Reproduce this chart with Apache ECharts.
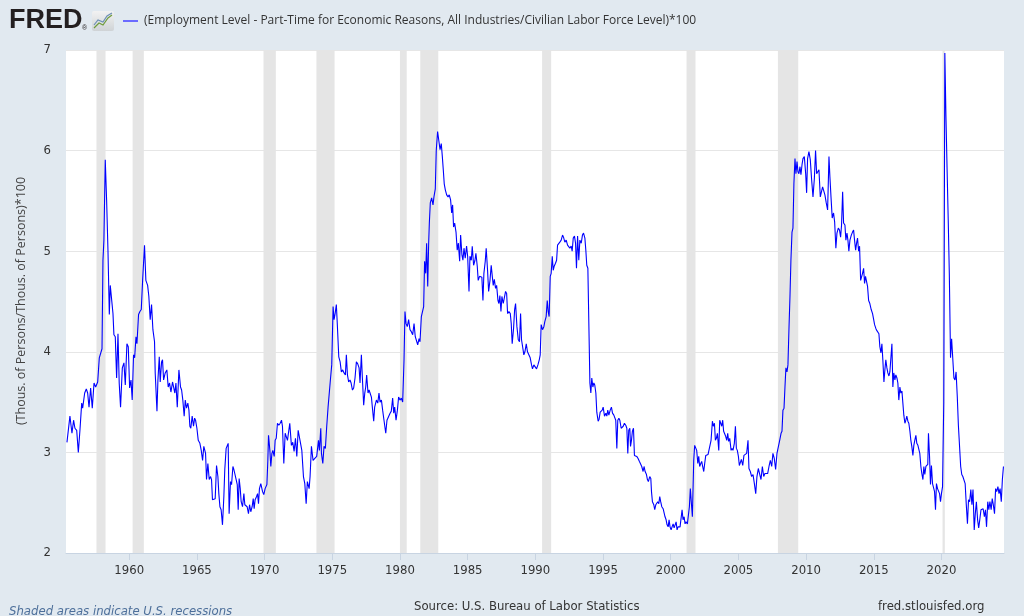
<!DOCTYPE html>
<html>
<head>
<meta charset="utf-8">
<script src="https://cdn.jsdelivr.net/npm/echarts@6/dist/echarts.min.js"></script>
<style>
html,body{margin:0;padding:0;background:#e1e9f0;}
#chart{width:1024px;height:616px;}
</style>
</head>
<body>
<div id="chart"></div>
<script>
// ---- data: [decimal year, percent] ----
const d1955 = [[1955.40,3.10],[1955.62,3.36],[1955.77,3.19],[1955.89,3.32],[1955.99,3.24],[1956.12,3.22],[1956.24,3.00],[1956.36,3.22],[1956.49,3.49],[1956.56,3.44],[1956.71,3.59],[1956.83,3.63],[1956.93,3.59],[1957.03,3.45],[1957.15,3.64],[1957.27,3.44],[1957.40,3.69],[1957.52,3.65],[1957.67,3.70],[1957.79,3.94],[1957.91,3.95],[1957.99,4.03],[1958.06,4.91],[1958.13,5.11],[1958.23,5.91],[1958.33,5.51],[1958.43,5.01],[1958.53,4.37],[1958.60,4.66],[1958.70,4.66],[1958.80,4.38],[1958.87,4.17],[1958.97,4.15],[1959.07,3.74],[1959.17,4.18],[1959.26,3.69],[1959.36,3.45],[1959.49,3.84],[1959.61,3.89],[1959.71,3.67],[1959.83,4.08],[1959.93,4.05],[1960.03,3.64],[1960.13,3.72],[1960.22,3.52],[1960.32,3.97],[1960.40,3.94],[1960.50,4.15],[1960.57,4.08],[1960.69,4.37],[1960.79,4.40],[1960.89,4.42],[1960.99,4.71],[1961.13,5.06],[1961.23,4.71],[1961.36,4.66],[1961.45,4.55],[1961.55,4.32],[1961.65,4.47],[1961.75,4.22],[1961.87,4.10],[1961.92,3.79],[1962.05,3.41],[1962.12,3.72],[1962.22,3.95],[1962.29,3.70],[1962.39,3.90],[1962.46,3.92],[1962.54,3.72],[1962.66,3.79],[1962.78,3.82],[1962.88,3.65],[1962.98,3.69],[1963.08,3.60],[1963.20,3.70],[1963.30,3.69],[1963.37,3.59],[1963.45,3.69],[1963.55,3.45],[1963.67,3.82],[1963.79,3.65],[1963.87,3.62],[1963.96,3.52],[1964.06,3.36],[1964.14,3.52],[1964.23,3.44],[1964.33,3.49],[1964.41,3.42],[1964.48,3.26],[1964.55,3.24],[1964.65,3.36],[1964.75,3.26],[1964.83,3.34],[1964.90,3.32],[1965.00,3.24],[1965.10,3.12],[1965.22,3.09],[1965.32,3.02],[1965.42,2.92],[1965.51,3.06],[1965.64,2.99],[1965.71,2.73],[1965.81,2.89],[1965.91,2.73],[1966.01,2.76],[1966.08,2.73],[1966.15,2.53],[1966.25,2.53],[1966.35,2.54],[1966.45,2.87],[1966.55,2.76],[1966.62,2.59],[1966.70,2.46],[1966.79,2.43],[1966.89,2.28],[1966.99,2.56],[1967.06,2.83],[1967.16,3.04],[1967.24,3.03],[1967.31,3.09],[1967.38,2.39],[1967.48,2.71],[1967.56,2.68],[1967.66,2.86],[1967.73,2.83],[1967.80,2.84],[1967.90,2.73],[1967.98,2.68],[1968.05,2.43],[1968.12,2.74],[1968.20,2.64],[1968.27,2.51],[1968.37,2.46],[1968.47,2.59],[1968.54,2.48],[1968.64,2.49],[1968.71,2.46],[1968.81,2.39],[1968.89,2.48],[1968.98,2.41],[1969.08,2.46],[1969.16,2.54],[1969.23,2.44],[1969.30,2.53],[1969.40,2.56],[1969.48,2.59],[1969.55,2.49],[1969.62,2.64],[1969.72,2.69],[1969.85,2.61],[1969.94,2.58],[1970.04,2.64],[1970.17,2.68],[1970.24,2.92],[1970.29,3.17],[1970.39,3.02],[1970.46,2.86],[1970.54,2.99],[1970.61,3.02],[1970.71,2.96],[1970.78,3.12],[1970.86,3.14],[1970.95,3.29],[1971.05,3.27],[1971.15,3.29],[1971.25,3.32],[1971.32,3.26],[1971.42,2.89],[1971.52,3.19]];
const d1971 = [[1971.69,3.12],[1971.86,3.29],[1971.98,3.07],[1972.08,3.10],[1972.18,3.01],[1972.28,3.14],[1972.38,2.96],[1972.48,3.22],[1972.62,3.23],[1972.75,3.02],[1972.87,2.76],[1972.97,2.69],[1973.07,2.49],[1973.16,2.71],[1973.29,2.64],[1973.36,2.76],[1973.46,3.06],[1973.58,2.92],[1973.71,2.94],[1973.85,2.96],[1973.98,3.12],[1974.05,3.02],[1974.15,3.24],[1974.20,2.99],[1974.30,2.89],[1974.39,3.06],[1974.49,3.04],[1974.59,3.26],[1974.69,3.45],[1974.79,3.45],[1974.86,3.72],[1974.96,3.87],[1975.06,4.45],[1975.13,4.32],[1975.21,4.38],[1975.30,4.47],[1975.38,4.25],[1975.48,3.95],[1975.58,3.90],[1975.67,3.80],[1975.77,3.82],[1975.87,3.79],[1975.97,3.77],[1976.04,3.97],[1976.12,3.77],[1976.21,3.70],[1976.31,3.72],[1976.39,3.69],[1976.49,3.62],[1976.58,3.64],[1976.68,3.74],[1976.78,3.90],[1976.88,3.88],[1976.98,3.84],[1977.05,3.69],[1977.15,3.97],[1977.22,3.75],[1977.32,3.47],[1977.40,3.59],[1977.47,3.65],[1977.54,3.77],[1977.64,3.59],[1977.72,3.62],[1977.79,3.59],[1977.89,3.55],[1977.96,3.45],[1978.06,3.31],[1978.13,3.45],[1978.26,3.52],[1978.36,3.49],[1978.45,3.59],[1978.53,3.50],[1978.63,3.52],[1978.72,3.42],[1978.82,3.32],[1978.95,3.19],[1979.04,3.32],[1979.17,3.36],[1979.27,3.39],[1979.36,3.41],[1979.46,3.54],[1979.54,3.39],[1979.61,3.45],[1979.71,3.32],[1979.81,3.42],[1979.90,3.55],[1980.00,3.52],[1980.10,3.54],[1980.20,3.50],[1980.30,3.92],[1980.37,4.40],[1980.45,4.28],[1980.54,4.25],[1980.64,4.32],[1980.74,4.22],[1980.84,4.20],[1980.94,4.17],[1981.04,4.28],[1981.13,4.15],[1981.23,4.15],[1981.31,4.07],[1981.41,4.13],[1981.48,4.10],[1981.58,4.35],[1981.68,4.35],[1981.75,4.45],[1981.82,4.90],[1981.90,4.78],[1981.97,5.08],[1982.05,4.65],[1982.12,5.08],[1982.17,5.28],[1982.24,5.48],[1982.34,5.53],[1982.44,5.46],[1982.51,5.54],[1982.61,5.62],[1982.68,6.00],[1982.78,6.19],[1982.88,6.09],[1982.96,6.01],[1983.05,6.07],[1983.13,5.94],[1983.20,5.81],[1983.27,5.67],[1983.35,5.61],[1983.45,5.56],[1983.55,5.54],[1983.64,5.56],[1983.74,5.51],[1983.82,5.38],[1983.89,5.46],[1983.96,5.24],[1984.04,5.28],[1984.14,5.19],[1984.23,5.01],[1984.31,5.08],[1984.41,4.90],[1984.48,5.16],[1984.58,4.96],[1984.65,4.91],[1984.73,5.03],[1984.82,4.93],[1984.92,5.05],[1985.00,4.95],[1985.10,4.60],[1985.17,4.95],[1985.27,4.91],[1985.34,5.05],[1985.44,4.86],[1985.54,4.91],[1985.61,4.98],[1985.71,4.85],[1985.78,4.71],[1985.88,4.75],[1985.98,4.75],[1986.05,4.74],[1986.13,4.51],[1986.20,4.78],[1986.30,4.90],[1986.37,5.03],[1986.47,4.81],[1986.55,4.60],[1986.65,4.71],[1986.74,4.86],[1986.82,4.75],[1986.89,4.66],[1986.97,4.72],[1987.06,4.63],[1987.14,4.66],[1987.24,4.51],[1987.31,4.48],[1987.38,4.56],[1987.46,4.40],[1987.53,4.55],[1987.63,4.48],[1987.70,4.48],[1987.80,4.60],[1987.88,4.58],[1987.95,4.38],[1988.05,4.40],[1988.15,4.38],[1988.22,4.28],[1988.29,4.08],[1988.39,4.23],[1988.47,4.42],[1988.54,4.48],[1988.64,4.25],[1988.74,4.12],[1988.83,4.10]];
const d1988 = [[1988.91,4.38],[1988.98,4.12],[1989.06,4.05],[1989.15,3.97],[1989.23,4.00],[1989.33,4.08],[1989.42,4.00],[1989.52,3.99],[1989.62,3.94],[1989.72,3.87],[1989.79,3.83],[1989.89,3.87],[1989.99,3.85],[1990.09,3.83],[1990.19,3.87],[1990.29,3.92],[1990.36,3.97],[1990.43,4.27],[1990.53,4.22],[1990.63,4.25],[1990.70,4.30],[1990.80,4.35],[1990.88,4.51],[1990.95,4.40],[1991.02,4.35],[1991.10,4.75],[1991.17,4.78],[1991.25,4.95],[1991.32,4.81],[1991.39,4.85],[1991.49,4.88],[1991.57,4.91],[1991.64,5.06],[1991.74,5.06],[1991.81,5.09],[1991.91,5.11],[1992.01,5.16],[1992.08,5.14],[1992.18,5.09],[1992.28,5.11],[1992.38,5.06],[1992.48,5.07],[1992.55,5.03],[1992.65,5.05],[1992.72,5.00],[1992.80,5.13],[1992.89,5.15],[1992.97,5.08],[1993.04,4.83],[1993.12,5.15],[1993.21,4.91],[1993.29,5.11],[1993.39,5.08],[1993.48,5.16],[1993.56,5.18],[1993.66,5.13],[1993.73,5.01],[1993.80,4.86],[1993.88,4.83],[1993.95,4.83],[1994.03,3.69],[1994.10,3.59],[1994.17,3.74],[1994.25,3.65],[1994.32,3.69],[1994.39,3.67],[1994.47,3.59],[1994.54,3.40],[1994.64,3.31],[1994.71,3.33],[1994.79,3.40],[1994.86,3.40],[1994.94,3.42],[1995.01,3.45],[1995.11,3.36],[1995.21,3.39],[1995.28,3.36],[1995.35,3.42],[1995.43,3.37],[1995.53,3.42],[1995.62,3.45],[1995.70,3.39],[1995.80,3.37],[1995.87,3.36],[1995.94,3.32],[1996.02,3.04],[1996.09,3.32],[1996.17,3.34],[1996.24,3.32],[1996.34,3.24],[1996.41,3.24],[1996.49,3.26],[1996.58,3.29],[1996.68,3.27],[1996.76,3.24],[1996.83,2.99],[1996.90,3.22],[1996.98,3.24],[1997.03,3.06],[1997.10,3.12],[1997.17,3.21],[1997.25,3.24],[1997.32,2.97],[1997.40,2.96],[1997.49,2.96],[1997.59,2.94],[1997.69,2.91],[1997.76,2.89],[1997.86,2.86],[1997.96,2.81],[1998.03,2.86],[1998.11,2.81],[1998.21,2.78],[1998.28,2.73],[1998.35,2.71],[1998.45,2.76],[1998.53,2.74],[1998.58,2.61],[1998.65,2.51],[1998.75,2.48],[1998.82,2.43],[1998.90,2.48],[1998.97,2.48],[1999.04,2.51],[1999.12,2.49],[1999.19,2.56],[1999.26,2.51],[1999.34,2.46],[1999.44,2.44],[1999.51,2.43],[1999.58,2.36],[1999.66,2.33],[1999.73,2.28],[1999.81,2.26],[1999.88,2.33],[1999.95,2.26],[2000.03,2.23],[2000.10,2.26],[2000.18,2.29],[2000.25,2.25],[2000.32,2.26],[2000.40,2.31],[2000.47,2.23],[2000.54,2.26],[2000.62,2.25],[2000.69,2.26],[2000.77,2.26],[2000.84,2.43],[2000.91,2.33],[2000.99,2.36],[2001.06,2.29],[2001.13,2.31],[2001.23,2.29],[2001.31,2.29],[2001.38,2.46],[2001.45,2.64],[2001.53,2.49],[2001.60,2.36],[2001.70,2.92],[2001.77,3.07],[2001.85,3.06],[2001.92,3.02],[2002.00,2.89],[2002.07,2.96],[2002.14,2.86],[2002.22,2.89],[2002.29,2.91],[2002.36,2.86],[2002.44,2.81],[2002.51,2.89],[2002.59,2.97],[2002.66,2.97],[2002.76,2.98],[2002.88,2.99],[2002.98,3.12],[2003.08,3.31],[2003.15,3.26],[2003.23,3.29],[2003.30,3.12],[2003.37,3.14],[2003.45,3.19],[2003.55,3.02],[2003.62,3.32],[2003.69,3.31],[2003.77,3.26],[2003.84,3.32],[2003.91,3.21],[2003.99,3.22],[2004.06,3.16],[2004.14,3.12],[2004.21,3.19],[2004.28,3.11],[2004.36,3.14],[2004.46,3.02],[2004.53,3.04],[2004.60,3.02],[2004.70,3.09],[2004.78,3.26],[2004.85,3.04],[2004.92,3.02],[2005.00,2.96],[2005.07,2.87]];
const d2005 = [[2005.22,2.93],[2005.32,2.87],[2005.41,2.97],[2005.51,2.96],[2005.61,2.99],[2005.71,3.12],[2005.78,2.84],[2005.88,2.81],[2005.98,2.76],[2006.08,2.78],[2006.18,2.69],[2006.28,2.59],[2006.37,2.76],[2006.47,2.84],[2006.57,2.84],[2006.67,2.73],[2006.77,2.86],[2006.87,2.76],[2006.96,2.79],[2007.06,2.78],[2007.16,2.79],[2007.26,2.86],[2007.36,2.92],[2007.46,2.86],[2007.55,2.99],[2007.65,2.94],[2007.75,2.83],[2007.85,2.99],[2007.95,2.99],[2008.05,3.12],[2008.15,3.19],[2008.22,3.21],[2008.29,3.42],[2008.37,3.44],[2008.44,3.65],[2008.51,3.84],[2008.59,3.80],[2008.66,3.87],[2008.74,4.25],[2008.81,4.55],[2008.88,4.91],[2008.96,5.19],[2009.03,5.23],[2009.10,5.67],[2009.18,5.92],[2009.25,5.77],[2009.33,5.89],[2009.40,5.79],[2009.47,5.77],[2009.55,5.84],[2009.62,5.76],[2009.70,5.86],[2009.77,5.92],[2009.87,5.94],[2009.97,5.77],[2010.04,5.58],[2010.11,5.92],[2010.21,5.99],[2010.31,5.91],[2010.41,5.71],[2010.51,5.54],[2010.61,5.72],[2010.70,6.00],[2010.78,5.77],[2010.85,5.76],[2010.95,5.81],[2011.05,5.54],[2011.15,5.54],[2011.22,5.64],[2011.32,5.63],[2011.39,5.56],[2011.49,5.48],[2011.59,5.41],[2011.69,5.94],[2011.76,5.74],[2011.84,5.54],[2011.93,5.33],[2012.03,5.38],[2012.11,5.29],[2012.20,5.03],[2012.28,5.18],[2012.38,5.23],[2012.47,5.21],[2012.55,5.14],[2012.62,5.26],[2012.70,5.59],[2012.77,5.28],[2012.87,5.26],[2012.94,5.11],[2013.02,5.18],[2013.09,5.11],[2013.16,5.00],[2013.24,5.11],[2013.34,5.16],[2013.43,5.19],[2013.51,5.21],[2013.58,5.11],[2013.66,5.01],[2013.73,5.08],[2013.80,5.13],[2013.88,5.00],[2013.95,5.05],[2014.03,4.71],[2014.10,4.70],[2014.17,4.78],[2014.25,4.83],[2014.32,4.68],[2014.39,4.75],[2014.47,4.74],[2014.54,4.65],[2014.62,4.51],[2014.71,4.48],[2014.81,4.42],[2014.91,4.38],[2014.98,4.33],[2015.06,4.27],[2015.16,4.23],[2015.23,4.21],[2015.30,4.20],[2015.38,4.18],[2015.45,4.05],[2015.53,3.99],[2015.60,4.08],[2015.67,3.92],[2015.75,3.70],[2015.82,3.82],[2015.89,3.92],[2015.97,3.84],[2016.04,3.79],[2016.12,3.76],[2016.19,3.80],[2016.26,3.80],[2016.34,4.08],[2016.41,3.65],[2016.48,3.79],[2016.56,3.72],[2016.63,3.77],[2016.71,3.74],[2016.78,3.69],[2016.85,3.52],[2016.93,3.65],[2017.00,3.59],[2017.08,3.61],[2017.15,3.49],[2017.22,3.37],[2017.30,3.29],[2017.37,3.32],[2017.44,3.36],[2017.52,3.31],[2017.59,3.29],[2017.67,3.21],[2017.74,3.12],[2017.81,3.06],[2017.89,2.97],[2017.96,3.07],[2018.03,3.12],[2018.11,3.17],[2018.18,3.09],[2018.26,3.07],[2018.33,3.06],[2018.40,2.99],[2018.48,2.86],[2018.55,2.79],[2018.63,2.73],[2018.70,2.86],[2018.77,2.78],[2018.85,2.86],[2018.92,2.86],[2018.99,2.88],[2019.04,3.19],[2019.12,2.96],[2019.19,2.68],[2019.26,2.87],[2019.34,2.69],[2019.41,2.69],[2019.49,2.61],[2019.56,2.43],[2019.63,2.69],[2019.71,2.64],[2019.78,2.64],[2019.86,2.59],[2019.93,2.51],[2020.00,2.59],[2020.08,2.66]];
const d2020 = [[2020.17,3.50],[2020.25,6.97],[2020.33,6.35],[2020.42,5.79],[2020.50,5.31],[2020.58,4.78],[2020.67,3.94],[2020.75,4.13],[2020.83,4.12],[2020.92,3.74],[2021.00,3.72],[2021.08,3.80],[2021.17,3.55],[2021.25,3.27],[2021.33,3.26],[2021.42,2.86],[2021.50,2.78],[2021.58,2.76],[2021.67,2.76],[2021.75,2.69],[2021.83,2.49],[2021.92,2.29],[2022.00,2.53],[2022.08,2.51],[2022.17,2.63],[2022.25,2.48],[2022.33,2.63],[2022.42,2.23],[2022.50,2.39],[2022.58,2.51],[2022.67,2.33],[2022.75,2.25],[2022.83,2.33],[2022.92,2.43],[2023.00,2.44],[2023.08,2.44],[2023.17,2.36],[2023.25,2.43],[2023.33,2.26],[2023.42,2.51],[2023.50,2.43],[2023.58,2.51],[2023.67,2.43],[2023.75,2.54],[2023.83,2.48],[2023.92,2.39],[2024.00,2.64],[2024.08,2.61],[2024.17,2.66],[2024.25,2.59],[2024.33,2.64],[2024.42,2.51],[2024.50,2.73],[2024.58,2.86]];
const recessions = [[1957.58,1958.25],[1960.25,1961.08],[1969.92,1970.83],[1973.83,1975.17],[1980.00,1980.50],[1981.50,1982.83],[1990.50,1991.17],[2001.17,2001.83],[2007.92,2009.42],[2020.08,2020.25]];
const yearTicks = [1960,1965,1970,1975,1980,1985,1990,1995,2000,2005,2010,2015,2020];
const yTicks = [2,3,4,5,6,7];
const seriesName = '(Employment Level - Part-Time for Economic Reasons, All Industries/Civilian Labor Force Level)*100';
const yName = '(Thous. of Persons/Thous. of Persons)*100';

const allData = d1955.concat(d1971, d1988, d2005, d2020);
const narrow = '"Liberation Sans Narrow","DejaVu Sans Condensed","Roboto Condensed",sans-serif';
const regular = '"Open Sans","Noto Sans",sans-serif';

const chart = echarts.init(document.getElementById('chart'), null, {renderer:'canvas'});
chart.setOption({
  backgroundColor: '#e1e9f0',
  animation: false,
  grid: {left: 66, right: 20, top: 50, bottom: 63, show: true, backgroundColor: '#ffffff', borderWidth: 0},
  xAxis: {
    type: 'value', min: 1955.33, max: 2024.62,
    splitLine: {show: false},
    axisLine: {show: true, lineStyle: {color: '#c8d4e2', width: 1}},
    axisTick: {show: true, customValues: yearTicks, length: 7, lineStyle: {color: '#c8d4e2'}},
    axisLabel: {customValues: yearTicks, color: '#333', fontSize: 13, fontFamily: narrow, margin: 11, formatter: v => String(v)}
  },
  yAxis: {
    type: 'value', min: yTicks[0], max: yTicks[yTicks.length-1], interval: 1,
    axisLine: {show: false}, axisTick: {show: false},
    splitLine: {lineStyle: {color: '#e6e6e6', width: 1}},
    axisLabel: {color: '#333', fontSize: 13, fontFamily: narrow, margin: 15}
  },
  series: [{
    type: 'line', name: seriesName, data: allData, showSymbol: false, symbol: 'none',
    lineStyle: {color: '#0000ff', width: 1.1}, itemStyle: {color: '#0000ff'},
    markArea: {silent: true, itemStyle: {color: '#e5e5e5'},
      data: recessions.map(r => [{xAxis: r[0]}, {xAxis: r[1]}])}
  }],
  graphic: [
    {type: 'text', x: 9, y: 7, style: {text: 'FRED', font: 'bold 27px "Liberation Sans",Arial,sans-serif', fill: '#231f20'}},
    {type: 'text', x: 82, y: 25, style: {text: '®', font: '7px "Liberation Sans",sans-serif', fill: '#231f20'}},
    {type: 'rect', shape: {x: 92, y: 11, width: 22, height: 20, r: 2}, style: {fill: new echarts.graphic.LinearGradient(0,0,0,1,[{offset:0,color:'#f2f2f2'},{offset:1,color:'#cfd3d6'}])}},
    {type: 'polyline', shape: {points: [[94,28],[99,23],[103,25],[108,18],[112,15]]}, style: {stroke: '#6f9c3c', lineWidth: 1.2, fill: null}},
    {type: 'polyline', shape: {points: [[94,25],[98,20],[103,22],[107,16],[112,13]]}, style: {stroke: '#6d8fb5', lineWidth: 1.2, fill: null}},
    {type: 'line', shape: {x1: 123, y1: 21, x2: 138, y2: 21}, style: {stroke: '#6b6bff', lineWidth: 2}},
    {type: 'text', x: 144, y: 21, style: {text: seriesName, font: '12px ' + regular, fill: '#333', verticalAlign: 'middle'}},
    {type: 'text', x: 21, y: 301, rotation: Math.PI/2, style: {text: yName, font: '12.5px ' + regular, fill: '#444', align: 'center', verticalAlign: 'middle'}},
    {type: 'text', x: 9, y: 612, style: {text: 'Shaded areas indicate U.S. recessions', font: 'italic 13px ' + narrow, fill: '#4d6f9a', verticalAlign: 'middle'}},
    {type: 'text', x: 414, y: 607, style: {text: 'Source: U.S. Bureau of Labor Statistics', font: '13px ' + narrow, fill: '#333', verticalAlign: 'middle'}},
    {type: 'text', x: 878, y: 607, style: {text: 'fred.stlouisfed.org', font: '13px ' + narrow, fill: '#333', verticalAlign: 'middle'}}
  ]
});
</script>
</body>
</html>
